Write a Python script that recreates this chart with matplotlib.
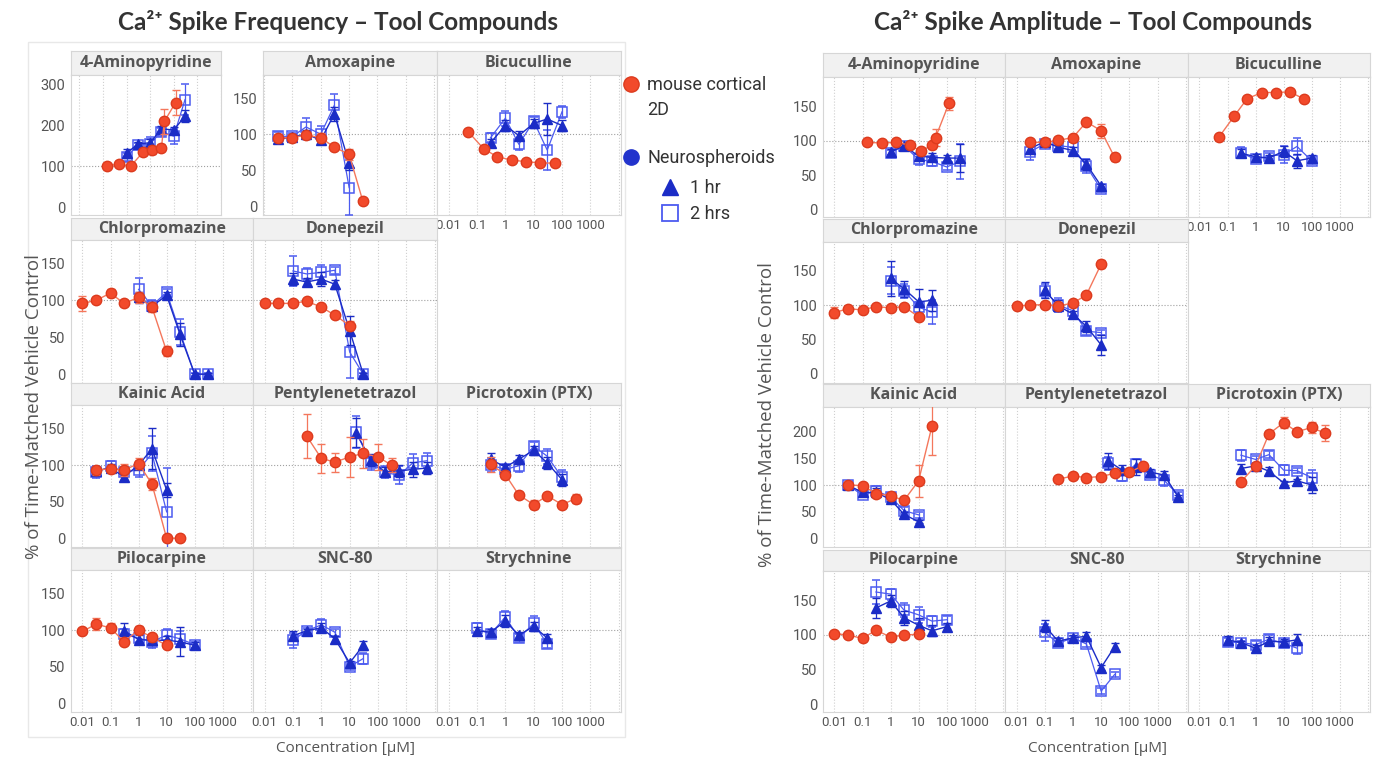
import matplotlib.pyplot as plt
from matplotlib.lines import Line2D
from matplotlib.patches import Rectangle

plt.rcParams['font.family'] = ['Roboto', 'DejaVu Sans']

# ---------------- data: Ca2+ spike frequency (% of vehicle) ----------------
# 2D = mouse cortical 2D, 1h / 2h = neurospheroids; x in uM; e = error bar
f_4ap_x_2d = [0.15, 0.5, 1.5, 5, 12, 30, 40, 120]
f_4ap_y_2d = [101, 105, 100, 134, 139, 145, 209, 255]
f_4ap_e_2d = [4, 3, 3, 8, 10, 8, 30, 30]
f_4ap_x_ns = [1, 3, 10, 30, 100, 300]
f_4ap_y_1h = [131, 154, 157, 191, 188, 222]
f_4ap_e_1h = [10, 6, 8, 6, 8, 15]
f_4ap_y_2h = [122, 151, 154, 184, 173, 262]
f_4ap_e_2h = [10, 5, 18, 10, 18, 38]

f_amox_x_2d = [0.03, 0.1, 0.3, 1, 3, 10, 30]
f_amox_y_2d = [95, 95, 99, 95, 82, 72, 8]
f_amox_e_2d = [5, 4, 4, 6, 3, 8, 2]
f_amox_x_ns = [0.03, 0.1, 0.3, 1, 3, 10]
f_amox_y_1h = [93, 96, 100, 92, 128, 60]
f_amox_e_1h = [5, 4, 6, 5, 10, 10]
f_amox_y_2h = [97, 97, 110, 100, 140, 26]
f_amox_e_2h = [6, 5, 12, 12, 16, 38]

f_bicu_x_2d = [0.05, 0.17, 0.5, 1.7, 5.5, 17, 55]
f_bicu_y_2d = [103, 80, 69, 64, 62, 60, 60]
f_bicu_e_2d = [2, 2, 2, 2, 2, 2, 2]
f_bicu_x_ns = [0.3, 1, 3, 10, 30, 100]
f_bicu_y_1h = [88, 112, 98, 115, 121, 112]
f_bicu_e_1h = [6, 8, 6, 6, 22, 8]
f_bicu_y_2h = [95, 122, 86, 118, 78, 131]
f_bicu_e_2h = [6, 10, 8, 6, 28, 8]

f_chlo_x_2d = [0.01, 0.03, 0.1, 0.3, 1, 3, 10]
f_chlo_y_2d = [96, 100, 110, 96, 104, 91, 31]
f_chlo_e_2d = [10, 4, 6, 3, 8, 7, 7]
f_chlo_x_ns = [1, 3, 10, 30, 100, 300]
f_chlo_y_1h = [104, 92, 107, 54, 0, 0]
f_chlo_e_1h = [8, 6, 4, 16, 2, 2]
f_chlo_y_2h = [115, 93, 111, 57, 0, 0]
f_chlo_e_2h = [15, 8, 4, 18, 2, 2]

f_done_x_2d = [0.01, 0.03, 0.1, 0.3, 1, 3, 10]
f_done_y_2d = [96, 96, 96, 99, 91, 80, 66]
f_done_e_2d = [2, 2, 3, 2, 2, 2, 6]
f_done_x_ns = [0.1, 0.3, 1, 3, 10, 30]
f_done_y_1h = [129, 125, 129, 122, 59, 0]
f_done_e_1h = [8, 6, 10, 6, 20, 2]
f_done_y_2h = [140, 136, 138, 141, 30, 0]
f_done_e_2h = [20, 8, 10, 5, 35, 2]

f_kain_x_2d = [0.03, 0.1, 0.3, 1, 3, 10, 30]
f_kain_y_2d = [93, 95, 93, 102, 74, 0, 0]
f_kain_e_2d = [6, 5, 8, 8, 8, 2, 2]
f_kain_x_ns = [0.03, 0.1, 0.3, 1, 3, 10]
f_kain_y_1h = [92, 96, 84, 100, 122, 66]
f_kain_e_1h = [5, 5, 6, 6, 28, 10]
f_kain_y_2h = [90, 98, 91, 93, 116, 36]
f_kain_e_2h = [8, 8, 6, 10, 24, 60]

f_ptz_x_2d = [0.3, 1, 3, 10, 30, 100, 300]
f_ptz_y_2d = [140, 109, 104, 111, 116, 111, 100]
f_ptz_e_2d = [30, 20, 13, 27, 20, 18, 10]
f_ptz_x_ns = [17, 55, 170, 550, 1700, 5500]
f_ptz_y_1h = [144, 107, 91, 92, 94, 96]
f_ptz_e_1h = [20, 8, 6, 8, 10, 8]
f_ptz_y_2h = [145, 103, 90, 86, 103, 106]
f_ptz_e_2h = [22, 10, 8, 12, 12, 10]

f_ptx_x_2d = [0.3, 1, 3, 10, 30, 100, 300]
f_ptx_y_2d = [101, 87, 59, 46, 58, 46, 54]
f_ptx_e_2d = [10, 5, 4, 6, 4, 3, 6]
f_ptx_x_ns = [0.3, 1, 3, 10, 30, 100]
f_ptx_y_1h = [108, 97, 108, 120, 103, 80]
f_ptx_e_1h = [8, 4, 6, 6, 8, 8]
f_ptx_y_2h = [100, 94, 99, 126, 112, 83]
f_ptx_e_2h = [10, 6, 8, 5, 10, 10]

f_pilo_x_2d = [0.01, 0.03, 0.1, 0.3, 1, 3, 10]
f_pilo_y_2d = [98, 108, 103, 84, 100, 90, 79]
f_pilo_e_2d = [4, 8, 6, 4, 5, 5, 4]
f_pilo_x_ns = [0.3, 1, 3, 10, 30, 100]
f_pilo_y_1h = [99, 87, 86, 86, 84, 79]
f_pilo_e_1h = [10, 6, 6, 6, 20, 4]
f_pilo_y_2h = [94, 89, 84, 93, 88, 80]
f_pilo_e_2h = [8, 5, 8, 8, 10, 4]

f_snc_x_ns = [0.1, 0.3, 1, 3, 10, 30]
f_snc_y_1h = [92, 99, 103, 88, 55, 79]
f_snc_e_1h = [6, 3, 6, 4, 3, 6]
f_snc_y_2h = [86, 99, 107, 97, 50, 61]
f_snc_e_2h = [10, 4, 8, 5, 4, 8]

f_stry_x_ns = [0.1, 0.3, 1, 3, 10, 30]
f_stry_y_1h = [99, 97, 112, 93, 105, 89]
f_stry_e_1h = [5, 4, 8, 4, 6, 6]
f_stry_y_2h = [103, 94, 118, 89, 109, 81]
f_stry_e_2h = [6, 5, 8, 5, 10, 6]

# ---------------- data: Ca2+ spike amplitude (% of vehicle) ----------------
a_4ap_x_2d = [0.15, 0.5, 1.5, 5, 12, 30, 40, 120]
a_4ap_y_2d = [98, 97, 98, 94, 85, 94, 105, 155]
a_4ap_e_2d = [3, 3, 3, 3, 5, 5, 12, 10]
a_4ap_x_ns = [1, 3, 10, 30, 100, 300]
a_4ap_y_1h = [84, 93, 78, 76, 75, 75]
a_4ap_e_1h = [4, 3, 6, 6, 5, 20]
a_4ap_y_2h = [83, 93, 73, 70, 62, 70]
a_4ap_e_2h = [4, 3, 8, 6, 5, 25]

a_amox_x_2d = [0.03, 0.1, 0.3, 1, 3, 10, 30]
a_amox_y_2d = [98, 98, 101, 105, 128, 115, 76]
a_amox_e_2d = [3, 3, 3, 3, 3, 10, 5]
a_amox_x_ns = [0.03, 0.1, 0.3, 1, 3, 10]
a_amox_y_1h = [89, 99, 91, 86, 66, 34]
a_amox_e_1h = [6, 3, 3, 5, 8, 3]
a_amox_y_2h = [84, 96, 93, 91, 63, 29]
a_amox_e_2h = [12, 5, 4, 8, 10, 4]

a_bicu_x_2d = [0.05, 0.17, 0.5, 1.7, 5.5, 17, 55]
a_bicu_y_2d = [106, 136, 162, 171, 171, 172, 161]
a_bicu_e_2d = [2, 2, 2, 2, 2, 2, 2]
a_bicu_x_ns = [0.3, 1, 3, 10, 30, 100]
a_bicu_y_1h = [82, 77, 75, 85, 71, 75]
a_bicu_e_1h = [6, 4, 5, 8, 10, 4]
a_bicu_y_2h = [83, 73, 78, 80, 92, 71]
a_bicu_e_2h = [8, 4, 5, 12, 12, 4]

a_chlo_x_2d = [0.01, 0.03, 0.1, 0.3, 1, 3, 10]
a_chlo_y_2d = [89, 95, 93, 98, 96, 98, 83]
a_chlo_e_2d = [8, 3, 3, 3, 3, 4, 5]
a_chlo_x_ns = [1, 3, 10, 30]
a_chlo_y_1h = [139, 124, 105, 107]
a_chlo_e_1h = [25, 12, 18, 15]
a_chlo_y_2h = [136, 121, 97, 90]
a_chlo_e_2h = [20, 10, 8, 18]

a_done_x_2d = [0.01, 0.03, 0.1, 0.3, 1, 3, 10]
a_done_y_2d = [99, 100, 101, 99, 103, 115, 160]
a_done_e_2d = [3, 3, 3, 3, 3, 4, 6]
a_done_x_ns = [0.1, 0.3, 1, 3, 10]
a_done_y_1h = [122, 99, 87, 69, 42]
a_done_e_1h = [12, 8, 5, 8, 15]
a_done_y_2h = [121, 100, 92, 62, 60]
a_done_e_2h = [10, 10, 8, 6, 4]

a_kain_x_2d = [0.03, 0.1, 0.3, 1, 3, 10, 30]
a_kain_y_2d = [100, 99, 84, 80, 71, 108, 211]
a_kain_e_2d = [4, 4, 6, 5, 4, 30, 55]
a_kain_x_ns = [0.03, 0.1, 0.3, 1, 3, 10]
a_kain_y_1h = [100, 86, 86, 73, 45, 31]
a_kain_e_1h = [3, 3, 8, 3, 4, 3]
a_kain_y_2h = [100, 81, 89, 78, 52, 44]
a_kain_e_2h = [3, 4, 10, 4, 6, 5]

a_ptz_x_2d = [0.3, 1, 3, 10, 30, 100, 300]
a_ptz_y_2d = [111, 117, 114, 116, 122, 124, 136]
a_ptz_e_2d = [3, 3, 3, 3, 3, 3, 6]
a_ptz_x_ns = [17, 55, 170, 550, 1700, 5500]
a_ptz_y_1h = [146, 128, 133, 124, 119, 77]
a_ptz_e_1h = [15, 10, 15, 6, 8, 5]
a_ptz_y_2h = [141, 117, 139, 119, 109, 81]
a_ptz_e_2h = [12, 10, 10, 5, 10, 6]

a_ptx_x_2d = [0.3, 1, 3, 10, 30, 100, 300]
a_ptx_y_2d = [106, 136, 196, 217, 200, 208, 197]
a_ptx_e_2d = [5, 6, 6, 10, 5, 10, 15]
a_ptx_x_ns = [0.3, 1, 3, 10, 30, 100]
a_ptx_y_1h = [131, 136, 126, 104, 108, 100]
a_ptx_e_1h = [8, 5, 8, 4, 4, 15]
a_ptx_y_2h = [156, 148, 157, 128, 127, 114]
a_ptx_e_2h = [10, 6, 6, 10, 5, 15]

a_pilo_x_2d = [0.01, 0.03, 0.1, 0.3, 1, 3, 10]
a_pilo_y_2d = [102, 100, 95, 107, 97, 100, 101]
a_pilo_e_2d = [3, 3, 3, 3, 3, 3, 3]
a_pilo_x_ns = [0.3, 1, 3, 10, 30, 100]
a_pilo_y_1h = [139, 149, 125, 114, 106, 112]
a_pilo_e_1h = [15, 8, 10, 10, 8, 6]
a_pilo_y_2h = [162, 159, 136, 129, 120, 122]
a_pilo_e_2h = [18, 8, 10, 12, 8, 6]

a_snc_x_ns = [0.1, 0.3, 1, 3, 10, 30]
a_snc_y_1h = [113, 91, 96, 98, 53, 83]
a_snc_e_1h = [8, 4, 4, 6, 4, 6]
a_snc_y_2h = [104, 88, 96, 87, 19, 43]
a_snc_e_2h = [12, 4, 3, 5, 4, 4]

a_stry_x_ns = [0.1, 0.3, 1, 3, 10, 30]
a_stry_y_1h = [93, 89, 81, 91, 90, 93]
a_stry_e_1h = [6, 3, 5, 6, 4, 8]
a_stry_y_2h = [90, 89, 86, 94, 88, 81]
a_stry_e_2h = [6, 3, 5, 6, 4, 8]

decades = [0.01, 0.1, 1, 10, 100, 1000, 10000]
decade_labels = ['0.01', '0.1', '1', '10', '100', '1000', '']

# ---------------- styling ----------------
W, H = 1375, 761
RED = '#f24a2b'
RED_EDGE = '#dc3b1e'
RED_LINE = '#f4775c'
BLUE = '#1b2cc6'
BLUE_SQ = '#4c5bf0'
TXT = '#555555'
XLIM = (10 ** -2.41, 10 ** 4.08)
STRIP_FONT = ['Open Sans', 'DejaVu Sans']

fig = plt.figure(figsize=(W / 100, H / 100), dpi=100)


def px_axes(x0, y0, x1, y1):
    return fig.add_axes([x0 / W, 1 - y1 / H, (x1 - x0) / W, (y1 - y0) / H])


def panel(x0, x1, rows, title, ylim, yticks, ylab=False, xlab=False, xlim=XLIM):
    st, top, bot = rows
    s = px_axes(x0, st, x1, top)
    s.set_facecolor('#f1f1f1')
    s.set_xticks([])
    s.set_yticks([])
    for sp in s.spines.values():
        sp.set_color('#d6d6d6')
    s.text(0.5, 0.5, title, ha='center', va='center', fontsize=11.5, family=STRIP_FONT,
           fontweight='bold', color=TXT, transform=s.transAxes)
    ax = px_axes(x0, top, x1, bot)
    ax.set_xscale('log')
    ax.set_xlim(*xlim)
    ax.set_ylim(*ylim)
    ax.set_xticks(decades)
    ax.set_xticklabels(decade_labels if xlab else [''] * len(decades))
    ax.minorticks_off()
    ax.set_yticks(yticks)
    if not ylab:
        ax.set_yticklabels([])
    ax.tick_params(axis='x', length=0, labelsize=9.5, labelcolor=TXT, pad=3)
    ax.tick_params(axis='y', length=0, labelsize=10.5, labelcolor=TXT, pad=4)
    ax.grid(axis='x', color='#cfcfcf', ls=':', lw=0.8)
    ax.set_axisbelow(True)
    ax.axhline(100, color='#a0a0a0', ls=':', lw=0.8, zorder=1)
    for sp in ax.spines.values():
        sp.set_color('#d6d6d6')
    return ax


def draw(ax, x2d=None, y2d=None, e2d=None, xns=None, y1h=None, e1h=None, y2h=None, e2h=None):
    if xns is not None:
        ax.errorbar(xns, y2h, yerr=e2h, color=BLUE_SQ, marker='s', ms=7.5, mfc='none',
                    mec=BLUE_SQ, mew=1.1, lw=0.9, elinewidth=0.9, capsize=3, zorder=3)
        ax.errorbar(xns, y1h, yerr=e1h, color=BLUE, marker='^', ms=7, mec=BLUE,
                    lw=1.0, elinewidth=0.9, capsize=3, zorder=4)
    if x2d is not None:
        ax.errorbar(x2d, y2d, yerr=e2d, color=RED_LINE, marker='o', ms=7.5, mfc=RED,
                    mec=RED_EDGE, lw=1.0, elinewidth=0.9, capsize=3, zorder=5)


# ---------------- left: frequency ----------------
L1, L2, L3, L4 = (51, 75, 215), (218, 240, 383), (383, 405, 547), (548, 570, 712)
Y = (-12, 182)
T4 = [0, 50, 100, 150]

ax = panel(71, 221, L1, '4-Aminopyridine', (-19, 322), [0, 100, 200, 300], ylab=True,
           xlim=(10 ** -2.35, 10 ** 3.0))
draw(ax, f_4ap_x_2d, f_4ap_y_2d, f_4ap_e_2d, f_4ap_x_ns, f_4ap_y_1h, f_4ap_e_1h, f_4ap_y_2h, f_4ap_e_2h)
ax = panel(263, 437, L1, 'Amoxapine', Y, T4, ylab=True, xlim=(10 ** -2.04, 10 ** 4.1))
draw(ax, f_amox_x_2d, f_amox_y_2d, f_amox_e_2d, f_amox_x_ns, f_amox_y_1h, f_amox_e_1h, f_amox_y_2h, f_amox_e_2h)
ax = panel(437, 621, L1, 'Bicuculline', Y, T4, xlab=True)
draw(ax, f_bicu_x_2d, f_bicu_y_2d, f_bicu_e_2d, f_bicu_x_ns, f_bicu_y_1h, f_bicu_e_1h, f_bicu_y_2h, f_bicu_e_2h)

ax = panel(71, 253, L2, 'Chlorpromazine', Y, T4, ylab=True)
draw(ax, f_chlo_x_2d, f_chlo_y_2d, f_chlo_e_2d, f_chlo_x_ns, f_chlo_y_1h, f_chlo_e_1h, f_chlo_y_2h, f_chlo_e_2h)
ax = panel(253, 437, L2, 'Donepezil', Y, T4)
draw(ax, f_done_x_2d, f_done_y_2d, f_done_e_2d, f_done_x_ns, f_done_y_1h, f_done_e_1h, f_done_y_2h, f_done_e_2h)

ax = panel(71, 253, L3, 'Kainic Acid', Y, T4, ylab=True)
draw(ax, f_kain_x_2d, f_kain_y_2d, f_kain_e_2d, f_kain_x_ns, f_kain_y_1h, f_kain_e_1h, f_kain_y_2h, f_kain_e_2h)
ax = panel(253, 437, L3, 'Pentylenetetrazol', Y, T4)
draw(ax, f_ptz_x_2d, f_ptz_y_2d, f_ptz_e_2d, f_ptz_x_ns, f_ptz_y_1h, f_ptz_e_1h, f_ptz_y_2h, f_ptz_e_2h)
ax = panel(437, 621, L3, 'Picrotoxin (PTX)', Y, T4)
draw(ax, f_ptx_x_2d, f_ptx_y_2d, f_ptx_e_2d, f_ptx_x_ns, f_ptx_y_1h, f_ptx_e_1h, f_ptx_y_2h, f_ptx_e_2h)

ax = panel(71, 253, L4, 'Pilocarpine', Y, T4, ylab=True, xlab=True)
draw(ax, f_pilo_x_2d, f_pilo_y_2d, f_pilo_e_2d, f_pilo_x_ns, f_pilo_y_1h, f_pilo_e_1h, f_pilo_y_2h, f_pilo_e_2h)
ax = panel(253, 437, L4, 'SNC-80', Y, T4, xlab=True)
draw(ax, xns=f_snc_x_ns, y1h=f_snc_y_1h, e1h=f_snc_e_1h, y2h=f_snc_y_2h, e2h=f_snc_e_2h)
ax = panel(437, 621, L4, 'Strychnine', Y, T4, xlab=True)
draw(ax, xns=f_stry_x_ns, y1h=f_stry_y_1h, e1h=f_stry_e_1h, y2h=f_stry_y_2h, e2h=f_stry_e_2h)

fig.patches.append(Rectangle((28 / W, 1 - 737 / H), 597 / W, 695 / H, transform=fig.transFigure,
                             fill=False, ec='#e8e8e8', lw=1))
fig.text(338 / W, 1 - 22 / H, 'Ca²⁺ Spike Frequency – Tool Compounds', ha='center', va='center',
         fontsize=17.5, fontweight='bold', color='#333333', family=['Lato', 'DejaVu Sans'])
fig.text(34 / W, 1 - 407 / H, '% of Time-Matched Vehicle Control', rotation=90, ha='center',
         va='center', fontsize=13.5, color=TXT, family=STRIP_FONT)
fig.text(345 / W, 1 - 748 / H, 'Concentration [µM]', ha='center', va='center', fontsize=11,
         color=TXT, family=STRIP_FONT)

# legend
fig.legend(handles=[Line2D([], [], ls='none', marker='o', ms=11, mfc=RED, mec=RED_EDGE),
                    Line2D([], [], ls='none')],
           labels=['mouse cortical', '2D'], loc='upper left', bbox_to_anchor=(604 / W, 1 - 60 / H),
           frameon=False, fontsize=13, handletextpad=0.3, handlelength=1.2, labelspacing=0.35,
           labelcolor='#333333')
fig.legend(handles=[Line2D([], [], ls='none', marker='o', ms=11, mfc='#2233cc', mec='#2233cc')],
           labels=['Neurospheroids'], loc='upper left', bbox_to_anchor=(604 / W, 1 - 133 / H),
           frameon=False, fontsize=13, handletextpad=0.3, handlelength=1.2, labelcolor='#333333')
fig.legend(handles=[Line2D([], [], ls='none', marker='^', ms=11, mfc=BLUE, mec=BLUE),
                    Line2D([], [], ls='none', marker='s', ms=11, mfc='none', mec=BLUE_SQ, mew=1.3)],
           labels=['1 hr', '2 hrs'], loc='upper left', bbox_to_anchor=(643 / W, 1 - 163 / H),
           frameon=False, fontsize=13, handletextpad=0.5, handlelength=1.2, labelspacing=0.45,
           labelcolor='#333333')

# ---------------- right: amplitude ----------------
R1, R2, R3, R4 = (53, 77, 217), (219, 241.7, 383), (384, 406.7, 547), (550, 571, 712)
Y1, Y2, Y3, Y4 = (-11.3, 193.7), (-13.6, 192.7), (-16.3, 247), (-11.1, 192.3)
T5 = [0, 50, 100, 150, 200]

ax = panel(823, 1005, R1, '4-Aminopyridine', Y1, T4, ylab=True)
draw(ax, a_4ap_x_2d, a_4ap_y_2d, a_4ap_e_2d, a_4ap_x_ns, a_4ap_y_1h, a_4ap_e_1h, a_4ap_y_2h, a_4ap_e_2h)
ax = panel(1005, 1188, R1, 'Amoxapine', Y1, T4)
draw(ax, a_amox_x_2d, a_amox_y_2d, a_amox_e_2d, a_amox_x_ns, a_amox_y_1h, a_amox_e_1h, a_amox_y_2h, a_amox_e_2h)
ax = panel(1188, 1370, R1, 'Bicuculline', Y1, T4, xlab=True)
draw(ax, a_bicu_x_2d, a_bicu_y_2d, a_bicu_e_2d, a_bicu_x_ns, a_bicu_y_1h, a_bicu_e_1h, a_bicu_y_2h, a_bicu_e_2h)

ax = panel(823, 1005, R2, 'Chlorpromazine', Y2, T4, ylab=True)
draw(ax, a_chlo_x_2d, a_chlo_y_2d, a_chlo_e_2d, a_chlo_x_ns, a_chlo_y_1h, a_chlo_e_1h, a_chlo_y_2h, a_chlo_e_2h)
ax = panel(1005, 1188, R2, 'Donepezil', Y2, T4)
draw(ax, a_done_x_2d, a_done_y_2d, a_done_e_2d, a_done_x_ns, a_done_y_1h, a_done_e_1h, a_done_y_2h, a_done_e_2h)

ax = panel(823, 1005, R3, 'Kainic Acid', Y3, T5, ylab=True)
draw(ax, a_kain_x_2d, a_kain_y_2d, a_kain_e_2d, a_kain_x_ns, a_kain_y_1h, a_kain_e_1h, a_kain_y_2h, a_kain_e_2h)
ax = panel(1005, 1188, R3, 'Pentylenetetrazol', Y3, T5)
draw(ax, a_ptz_x_2d, a_ptz_y_2d, a_ptz_e_2d, a_ptz_x_ns, a_ptz_y_1h, a_ptz_e_1h, a_ptz_y_2h, a_ptz_e_2h)
ax = panel(1188, 1370, R3, 'Picrotoxin (PTX)', Y3, T5)
draw(ax, a_ptx_x_2d, a_ptx_y_2d, a_ptx_e_2d, a_ptx_x_ns, a_ptx_y_1h, a_ptx_e_1h, a_ptx_y_2h, a_ptx_e_2h)

ax = panel(823, 1005, R4, 'Pilocarpine', Y4, T4, ylab=True, xlab=True)
draw(ax, a_pilo_x_2d, a_pilo_y_2d, a_pilo_e_2d, a_pilo_x_ns, a_pilo_y_1h, a_pilo_e_1h, a_pilo_y_2h, a_pilo_e_2h)
ax = panel(1005, 1188, R4, 'SNC-80', Y4, T4, xlab=True)
draw(ax, xns=a_snc_x_ns, y1h=a_snc_y_1h, e1h=a_snc_e_1h, y2h=a_snc_y_2h, e2h=a_snc_e_2h)
ax = panel(1188, 1370, R4, 'Strychnine', Y4, T4, xlab=True)
draw(ax, xns=a_stry_x_ns, y1h=a_stry_y_1h, e1h=a_stry_e_1h, y2h=a_stry_y_2h, e2h=a_stry_e_2h)

fig.text(1093 / W, 1 - 22 / H, 'Ca²⁺ Spike Amplitude – Tool Compounds', ha='center', va='center',
         fontsize=17.5, fontweight='bold', color='#333333', family=['Lato', 'DejaVu Sans'])
fig.text(767 / W, 1 - 415 / H, '% of Time-Matched Vehicle Control', rotation=90, ha='center',
         va='center', fontsize=13.5, color=TXT, family=STRIP_FONT)
fig.text(1097 / W, 1 - 748 / H, 'Concentration [µM]', ha='center', va='center', fontsize=11,
         color=TXT, family=STRIP_FONT)

fig.savefig('out.png', dpi=100)
